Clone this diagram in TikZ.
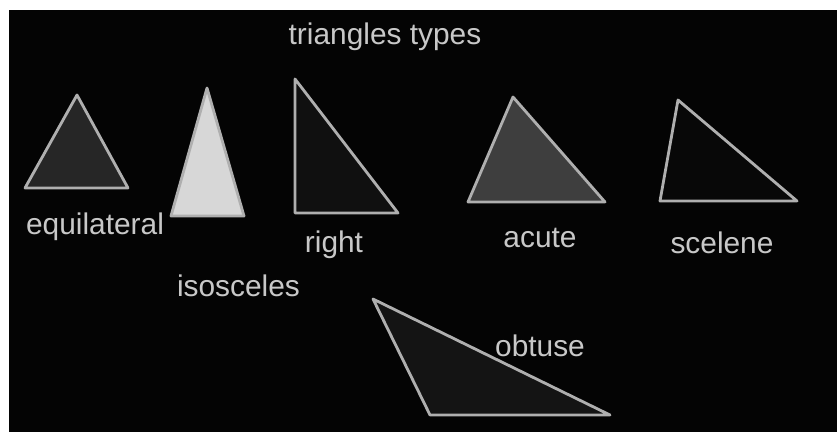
\documentclass[tikz,border=0pt]{standalone}
\usepackage{fontspec}
\setmainfont{Liberation Sans}
\definecolor{bgblack}{RGB}{4,4,4}
\definecolor{edgegray}{RGB}{175,175,175}
\definecolor{txtgray}{RGB}{200,200,200}
\definecolor{fillA}{RGB}{38,38,38}
\definecolor{fillB}{RGB}{215,215,215}
\definecolor{fillC}{RGB}{16,16,16}
\definecolor{fillD}{RGB}{62,62,62}
\definecolor{fillE}{RGB}{8,8,8}
\definecolor{fillF}{RGB}{20,20,20}
\tikzset{
  tri/.style={draw=edgegray, line width=2.4pt, line join=round},
  lbl/.style={text=txtgray, anchor=base, inner sep=0pt, font=\fontsize{25.5}{30}\selectfont}
}
\begin{document}
\begin{tikzpicture}[x=0.03cm,y=-0.03cm]
\useasboundingbox (0,0) rectangle (837,432);
\fill[white] (0,0) rectangle (837,432);
\fill[bgblack] (9,10) rectangle (837,432);
% equilateral
\coordinate (eqA) at (77,95); \coordinate (eqB) at (25,188); \coordinate (eqC) at (128,188);
\filldraw[tri, fill=fillA] (eqA) -- (eqB) -- (eqC) -- cycle;
% isosceles
\coordinate (isA) at (207,88); \coordinate (isB) at (171,216); \coordinate (isC) at (244,216);
\filldraw[tri, fill=fillB] (isA) -- (isB) -- (isC) -- cycle;
% right
\coordinate (rtA) at (295,79); \coordinate (rtB) at (295,213); \coordinate (rtC) at (398,213);
\filldraw[tri, fill=fillC] (rtA) -- (rtB) -- (rtC) -- cycle;
% acute
\coordinate (acA) at (513,97); \coordinate (acB) at (468,202); \coordinate (acC) at (605,202);
\filldraw[tri, fill=fillD] (acA) -- (acB) -- (acC) -- cycle;
% scalene
\coordinate (scA) at (678,100); \coordinate (scB) at (660,201); \coordinate (scC) at (797,201);
\filldraw[tri, fill=fillE] (scA) -- (scB) -- (scC) -- cycle;
% obtuse
\coordinate (obA) at (373,299); \coordinate (obB) at (430,415); \coordinate (obC) at (610,415);
\filldraw[tri, fill=fillF] (obA) -- (obB) -- (obC) -- cycle;
% labels
\node[lbl] (title) at (385,45) {triangles types};
\node[lbl] (leq) at (95,235) {equilateral};
\node[lbl] (lrt) at (334,253) {right};
\node[lbl] (lis) at (238.5,297) {isosceles};
\node[lbl] (lac) at (540,248) {acute};
\node[lbl] (lsc) at (722,254) {scelene};
\node[lbl] (lob) at (540,357) {obtuse};
\end{tikzpicture}
\end{document}
